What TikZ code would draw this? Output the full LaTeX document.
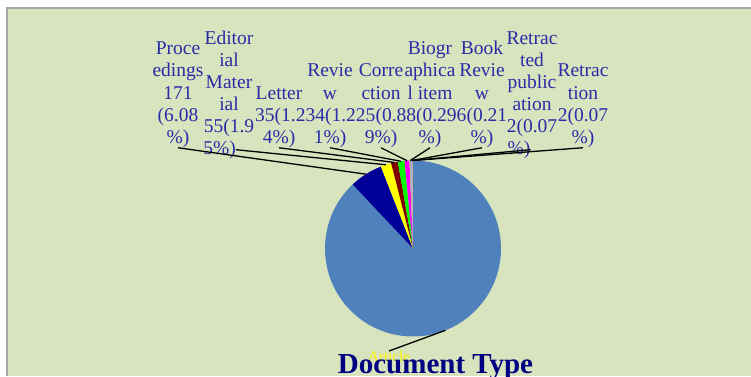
\documentclass[tikz,border=0pt]{standalone}
\usepackage{fontspec}
\setmainfont{Liberation Serif}
\definecolor{panel}{HTML}{D7E4BD}
\definecolor{frame}{HTML}{A6A6A6}
\definecolor{labblue}{HTML}{2B2BA8}
\definecolor{titleblue}{HTML}{000080}
\definecolor{cArticle}{HTML}{4F81BD}
\definecolor{cProc}{HTML}{000099}
\definecolor{cEdit}{HTML}{FFFF00}
\definecolor{cLetter}{HTML}{800000}
\definecolor{cReview}{HTML}{00FF00}
\definecolor{cCorr}{HTML}{FF00FF}
\definecolor{cBio}{HTML}{BDB39C}
\definecolor{cBook}{HTML}{9999FF}
\definecolor{cRetp}{HTML}{FFCC99}
\definecolor{cRet}{HTML}{808080}
\newcommand\pieslice[3]{%
  \fill[#3] (pc) -- ++(#1:88) arc[start angle=#1, end angle=#2, radius=88] -- cycle;}
\tikzset{
  lab/.style={font=\fontsize{19.5}{22}\selectfont, text=labblue, inner sep=0pt, anchor=base},
  labw/.style={lab, anchor=base west},
  leader/.style={draw=black, line width=1.3pt},
}
\begin{document}
\begin{tikzpicture}[x=1pt,y=1pt]
\useasboundingbox (0,0) rectangle (751,376);
% chart area
\fill[white] (0,0) rectangle (751,376);
\fill[panel] (6,0) rectangle (751,369);
\draw[frame, line width=1.6pt] (6.8,0) -- (6.8,368.2) -- (751,368.2);

% pie
\coordinate (pc) at (413,127.5);
\pieslice{133.288}{450}{cArticle}
\pieslice{111.400}{133.288}{cProc}
\pieslice{104.380}{111.400}{cEdit}
\pieslice{99.936}{104.380}{cLetter}
\pieslice{95.526}{99.936}{cReview}
\pieslice{92.326}{95.526}{cCorr}
\pieslice{91.260}{92.326}{cBio}
\pieslice{90.504}{91.260}{cBook}
\pieslice{90.252}{90.504}{cRetp}
\pieslice{90.000}{90.252}{cRet}

% points on the rim where the leader lines meet their slices
\path (pc) ++(291.644:88) coordinate (sArt);
\path (pc) ++(122.344:88) coordinate (sPro);
\path (pc) ++(107.890:88) coordinate (sEdi);
\path (pc) ++(102.158:88) coordinate (sLet);
\path (pc) ++(97.731:88) coordinate (sRev);
\path (pc) ++(93.926:88) coordinate (sCor);
\path (pc) ++(91.793:88) coordinate (sBio);
\path (pc) ++(90.882:88) coordinate (sBoo);
\path (pc) ++(90.378:88) coordinate (sRtp);
\path (pc) ++(90.126:88) coordinate (sRet);

% Proceedings
\node[lab] (pr1) at (178,321.4) {Proce};
\node[lab] (pr2) at (178,299.2) {edings};
\node[lab] (pr3) at (178,277.0) {171};
\node[lab] (pr4) at (178,254.8) {(6.08};
\node[lab] (pr5) at (178,232.6) {\%)};
% Editorial Material
\node[lab] (ed1) at (229,331.6) {Editor};
\node[lab] (ed2) at (229,309.6) {ial};
\node[lab] (ed3) at (229,287.6) {Mater};
\node[lab] (ed4) at (229,265.6) {ial};
\node[lab] (ed5) at (229,243.6) {55(1.9};
\node[lab] (ed6) at (219.5,221.6) {5\%)};
% Letter
\node[lab] (le1) at (279,277.0) {Letter};
\node[labw] (le2) at (255,254.8) {35(1.234};
\node[lab] (le3) at (279,232.6) {4\%)};
% Review
\node[lab] (rv1) at (330,299.2) {Revie};
\node[lab] (rv2) at (330,277.0) {w};
\node[labw] (rv3) at (324.9,254.8) {(1.225};
\node[lab] (rv4) at (330,232.6) {1\%)};
% Correction
\node[lab] (co1) at (381,299.2) {Corre};
\node[lab] (co2) at (381,277.0) {ction};
\node[labw] (co3) at (375.3,254.8) {(0.88};
\node[lab] (co4) at (381,232.6) {9\%)};
% Biographical item
\node[lab] (bi1) at (430,321.4) {Biogr};
\node[lab] (bi2) at (430,299.2) {aphica};
\node[lab] (bi3) at (430,277.0) {l item};
\node[labw] (bi4) at (415.9,254.8) {(0.296};
\node[lab] (bi5) at (430,232.6) {\%)};
% Book Review
\node[lab] (bk1) at (482,321.4) {Book};
\node[lab] (bk2) at (482,299.2) {Revie};
\node[lab] (bk3) at (482,277.0) {w};
\node[labw] (bk4) at (466.3,254.8) {(0.21};
\node[lab] (bk5) at (482,232.6) {\%)};
% Retracted publication
\node[lab] (rp1) at (532,331.6) {Retrac};
\node[lab] (rp2) at (532,309.6) {ted};
\node[lab] (rp3) at (532,287.6) {public};
\node[lab] (rp4) at (532,265.6) {ation};
\node[lab] (rp5) at (532,243.6) {2(0.07};
\node[lab] (rp6) at (519,221.6) {\%)};
% Retraction
\node[lab] (rt1) at (583,299.2) {Retrac};
\node[lab] (rt2) at (583,277.0) {tion};
\node[lab] (rt3) at (583,254.8) {2(0.07};
\node[lab] (rt4) at (583,232.6) {\%)};

% leader lines
\draw[leader] (pr5.south) -- (sPro);
\draw[leader] (ed6.east) -- (sEdi);
\draw[leader] (le3.south) -- (sLet);
\draw[leader] (rv4.south) -- (sRev);
\draw[leader] (co4.south) -- (sCor);
\draw[leader] (bi5.south) -- (sBio);
\draw[leader] (bk5.south) -- (sBoo);
\draw[leader] (rp6.east) -- (sRtp);
\draw[leader] (rt4.south) -- (sRet);

% Article
\node[font=\fontsize{15}{17}\selectfont, text=yellow, inner sep=0pt, anchor=north] (art) at (389,25) {Article};
\draw[leader] (sArt) -- (art.north);

% title
\node[font=\fontsize{29}{32}\selectfont\bfseries, text=titleblue, inner sep=0pt, anchor=base] (title) at (435.5,3) {Document Type};
\end{tikzpicture}
\end{document}
